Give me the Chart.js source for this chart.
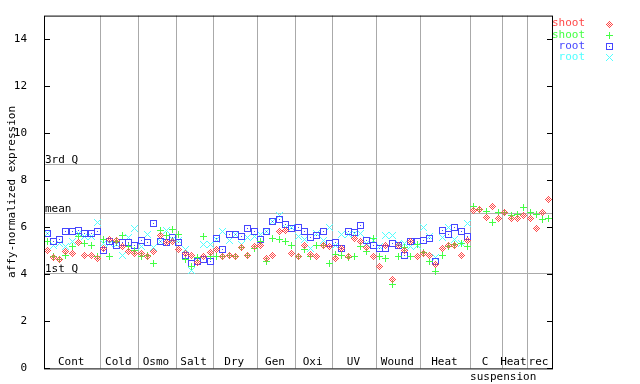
<!DOCTYPE html>
<html><head><meta charset="utf-8">
<script src="https://cdn.jsdelivr.net/npm/chart.js@4/dist/chart.umd.min.js"></script>
<style>html,body{margin:0;padding:0;background:#fff}</style>
</head><body>
<canvas id="c" width="640" height="384" style="width:640px;height:384px;display:block"></canvas>
<script>
// ---- data ----
const groups = ['Cont','Cold','Osmo','Salt','Dry','Gen','Oxi','UV','Wound','Heat','C','Heat','rec'];
const groupSizes = [9,6,6,6,7,6,6,7,7,8,5,4,4];
const superLabel = 'suspension';
const superFrom = 10, superTo = 12;
const yTicks = [0,2,4,6,8,10,12,14];
const refNames = ['3rd Q','mean','1st Q'];
const refValues = [8.69,6.60,4.07];
const seriesNames = ['shoot','shoot','root','root'];

const shootA = [5.0,4.72,4.62,4.95,4.89,5.34,4.82,4.82,4.68,
 5.1,5.49,5.45,5.2,4.99,4.88,
 4.9,4.75,4.96,5.63,5.35,5.38,
 5.07,4.89,4.78,4.51,4.75,4.93,
 5.07,4.75,4.78,4.75,5.13,4.78,5.17,
 5.24,4.68,4.82,5.83,5.87,4.89,
 4.75,5.21,4.85,4.75,5.21,5.17,
 4.68,5.1,4.75,5.52,5.38,5.13,4.75,
 4.33,5.24,3.76,5.21,5.03,5.41,4.75,
 4.89,4.79,4.4,5.1,5.21,5.21,4.78,5.45,
 6.72,6.76,6.43,6.9,6.36,
 6.62,6.36,6.36,6.5,
 6.36,5.94,6.62,7.18];
const shootB = [5.41,4.75,4.61,4.80,5.17,5.62,5.3,5.24,4.75,
 5.5,4.75,5.4,5.63,5.2,5.0,
 4.75,4.78,4.47,5.87,5.66,5.91,
 5.69,4.61,4.33,4.70,5.59,4.75,
 4.75,4.75,4.78,4.75,5.13,4.78,5.1,
 5.4,4.54,5.52,5.49,5.41,5.24,
 4.75,5.07,4.75,5.24,5.24,4.47,
 4.85,4.79,4.72,4.75,5.17,4.99,5.52,
 4.75,4.68,3.55,4.75,5.13,4.75,5.27,
 4.93,4.56,4.14,4.79,5.17,5.27,5.31,5.17,
 6.9,6.76,6.67,6.2,6.62,
 6.62,6.5,6.53,6.86,
 6.62,6.53,6.34,6.39];
const rootA = [5.73,5.41,5.48,5.84,5.84,5.87,5.73,5.73,5.8,
 5.0,5.38,5.24,5.35,5.35,5.24,
 5.45,5.35,6.15,5.41,5.35,5.55,
 5.35,4.78,4.47,4.54,4.65,4.56,
 5.52,5.07,5.69,5.69,5.59,5.94,5.8,
 5.49,5.8,6.25,6.34,6.11,5.94,
 5.97,5.83,5.55,5.66,5.83,5.31,
 5.35,5.1,5.8,5.77,6.08,5.45,5.24,
 5.1,5.1,5.31,5.24,4.82,5.41,5.41,
 5.45,5.52,4.56,5.87,5.69,5.97,5.8,5.59,
 null,null,null,null,null,
 null,null,null,null,
 null,null,null,null];
const rootB = [5.73,5.22,5.3,5.17,5.4,5.73,5.62,5.59,6.21,
 5.3,5.3,5.27,4.82,5.56,5.94,
 5.2,5.69,5.13,5.41,5.87,5.5,
 5.45,5.07,4.18,4.55,5.27,5.27,
 5.5,5.8,5.45,5.69,5.27,5.55,5.6,
 5.69,5.8,6.25,6.5,5.97,6.01,
 5.6,5.5,5.10,5.73,5.45,5.97,
 5.24,5.69,5.69,5.73,5.73,5.31,5.45,
 5.17,5.66,5.63,5.31,5.31,5.17,5.24,
 5.97,5.59,4.7,5.55,6.01,5.49,5.31,6.15,
 null,null,null,null,null,
 null,null,null,null,
 null,null,null,null];

// ---- styles ----
const colors = ['#ff4848','#44ff44','#4646ff','#50ffff'];
function mk(fn){const c=document.createElement('canvas');c.width=7;c.height=7;const g=c.getContext('2d');fn(g);return c;}
function px(g,x,y){g.fillRect(x,y,1,1);}
const markers = [
  mk(g=>{g.fillStyle=colors[0];for(let x=0;x<7;x++)for(let y=0;y<7;y++){if(Math.abs(x-3)+Math.abs(y-3)<=3&&(x+y)%2===1)px(g,x,y);}}),
  mk(g=>{g.fillStyle=colors[1];for(let i=0;i<7;i++){px(g,3,i);px(g,i,3);}}),
  mk(g=>{g.fillStyle=colors[2];for(let i=0;i<7;i++){px(g,i,0);px(g,i,6);px(g,0,i);px(g,6,i);}px(g,3,3);}),
  mk(g=>{g.fillStyle=colors[3];for(let i=0;i<7;i++){px(g,i,i);px(g,6-i,i);}})
];
const FONT = '11px "DejaVu Sans Mono"';

function toPoints(arr){return arr.map((v,i)=>v==null?null:{x:i+0.5,y:v}).filter(p=>p);}
const series=[shootA,shootB,rootA,rootB];
const totalSamples = groupSizes.reduce((a,b)=>a+b,0);
const bounds=[0];groupSizes.forEach(s=>bounds.push(bounds[bounds.length-1]+s));

const deco = {
  id:'deco',
  beforeDatasetsDraw(chart){
    const {ctx,chartArea:a,scales:{x,y}}=chart;
    ctx.save();
    ctx.imageSmoothingEnabled=false;
    ctx.strokeStyle='#aaaaaa';ctx.lineWidth=1;
    ctx.beginPath();
    for(let i=1;i<bounds.length-1;i++){const p=Math.round(x.getPixelForValue(bounds[i]))+0.5;ctx.moveTo(p,a.top);ctx.lineTo(p,a.bottom);}
    refValues.forEach(v=>{const p=Math.round(y.getPixelForValue(v))+0.5;ctx.moveTo(a.left,p);ctx.lineTo(a.right,p);});
    ctx.stroke();
    ctx.fillStyle='#000';ctx.font=FONT;ctx.textAlign='left';ctx.textBaseline='alphabetic';
    refValues.forEach((v,i)=>{ctx.fillText(refNames[i],a.left+1,Math.round(y.getPixelForValue(v))-1);});
    ctx.textAlign='center';ctx.textBaseline='middle';
    groups.forEach((g,i)=>{const cx=(x.getPixelForValue(bounds[i])+x.getPixelForValue(bounds[i+1]))/2;ctx.fillText(g,cx-1,a.bottom-6);});
    ctx.restore();
    ctx.imageSmoothingEnabled=false;
  },
  afterDraw(chart){
    const {ctx,chartArea:a,scales:{x,y}}=chart;
    ctx.save();
    ctx.strokeStyle='#000';ctx.lineWidth=1;
    ctx.strokeRect(a.left+0.5,a.top+0.5,a.right-a.left,a.bottom-a.top);
    ctx.beginPath();
    yTicks.forEach(v=>{const p=Math.round(y.getPixelForValue(v))+0.5;ctx.moveTo(a.left,p);ctx.lineTo(a.left+6,p);ctx.moveTo(a.right+1,p);ctx.lineTo(a.right-5,p);});
    ctx.stroke();
    ctx.fillStyle='#000';ctx.font=FONT;ctx.textAlign='center';ctx.textBaseline='middle';
    const sx=(x.getPixelForValue(bounds[superFrom])+x.getPixelForValue(bounds[superTo+1]))/2-8;
    ctx.fillText(superLabel,sx,a.bottom+9);
    ctx.save();ctx.translate(12,(a.top+a.bottom)/2);ctx.rotate(-Math.PI/2);ctx.fillText('affy-normalized expression',0,0);ctx.restore();
    ctx.imageSmoothingEnabled=false;
    seriesNames.forEach((n,i)=>{
      const yy=23.5+i*11.2;
      ctx.fillStyle=colors[i];ctx.textAlign='right';ctx.textBaseline='middle';
      ctx.fillText(n,585,yy);
      ctx.drawImage(markers[i],606,Math.round(yy)-3);
    });
    ctx.restore();
  }
};

new Chart(document.getElementById('c'),{
  type:'scatter',
  data:{datasets:series.map((s,i)=>({label:seriesNames[i],data:toPoints(s),pointStyle:markers[i],pointRadius:4,borderColor:colors[i],backgroundColor:colors[i],showLine:false}))},
  options:{
    responsive:false,animation:false,devicePixelRatio:1,
    layout:{padding:{left:0,right:88,top:13,bottom:15}},
    plugins:{legend:{display:false},tooltip:{enabled:false}},
    scales:{
      x:{type:'linear',min:0,max:totalSamples,display:false},
      y:{type:'linear',min:0,max:15,
         afterFit:s=>{s.width=44;},
         afterBuildTicks:s=>{s.ticks=yTicks.map(v=>({value:v}));},
         ticks:{color:'#000',font:{family:'DejaVu Sans Mono',size:11},padding:9},
         grid:{display:false},border:{display:false}}
    }
  },
  plugins:[deco]
});
</script>
</body></html>
